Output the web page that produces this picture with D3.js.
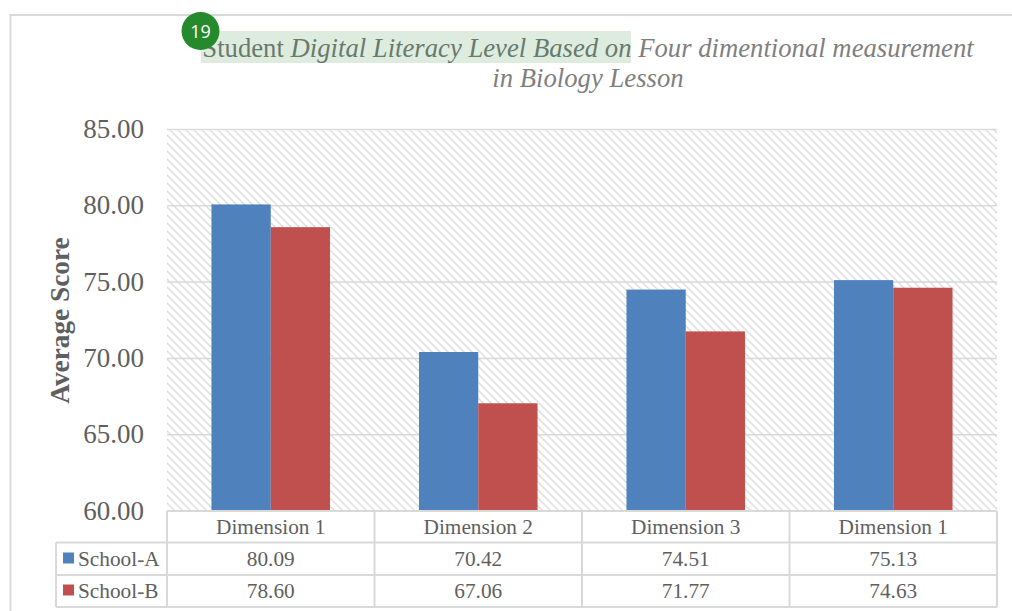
<!DOCTYPE html>
<html>
<head>
<meta charset="utf-8">
<script src="https://cdn.jsdelivr.net/npm/d3@7"></script>
<style>
  html, body { margin: 0; padding: 0; background: #fff; }
  svg { display: block; }
  text { font-family: "Liberation Serif", serif; }
</style>
</head>
<body>
<svg id="chart" width="1012" height="611"></svg>
<script>
const categories = ['Dimension 1', 'Dimension 2', 'Dimension 3', 'Dimension 1'];
const seriesNames = ['School-A', 'School-B'];
const schoolA = [80.09, 70.42, 74.51, 75.13];
const schoolB = [78.60, 67.06, 71.77, 74.63];
const seriesValues = [schoolA, schoolB];
const seriesColors = ['#4f81bd', '#c0504d'];
const yTicks = [60, 65, 70, 75, 80, 85];

const svg = d3.select('#chart');
const gridColor = '#d9d9d9';
const textColor = '#5f5f5f';

const plotLeft = 167, plotRight = 997, plotTop = 129.5, plotBottom = 511;
const rowLines = [511, 542.5, 575, 607];
const legendLeft = 56;
const tableFont = 21.3;

const defs = svg.append('defs');
const hatch = defs.append('pattern')
  .attr('id', 'hatch')
  .attr('width', 8)
  .attr('height', 8)
  .attr('patternUnits', 'userSpaceOnUse');
hatch.append('rect').attr('width', 8).attr('height', 8).attr('fill', '#fff');
hatch.append('path')
  .attr('d', 'M-1,-1L9,9M-1,7L1,9M7,-1L9,1')
  .attr('stroke', gridColor)
  .attr('stroke-width', 1.5)
  .attr('stroke-dasharray', '2.4 0.43');

// outer frame, runs off the right and bottom of the picture
svg.append('path')
  .attr('d', 'M1012,15H10.5V611')
  .attr('fill', 'none')
  .attr('stroke', gridColor)
  .attr('stroke-width', 2);

const x0 = d3.scaleBand().domain(d3.range(categories.length)).range([plotLeft, plotRight]);
const x1 = d3.scaleBand()
  .domain(seriesNames)
  .range([0, x0.bandwidth()])
  .paddingInner(0)
  .paddingOuter(0.75);
const y = d3.scaleLinear().domain([60, 85]).range([plotBottom, plotTop]);

svg.append('rect')
  .attr('x', plotLeft)
  .attr('y', plotTop)
  .attr('width', plotRight - plotLeft)
  .attr('height', plotBottom - plotTop)
  .attr('fill', 'url(#hatch)');

// gridlines
svg.append('g')
  .selectAll('line')
  .data(yTicks)
  .enter()
  .append('line')
  .attr('x1', plotLeft)
  .attr('x2', plotRight)
  .attr('y1', d => y(d))
  .attr('y2', d => y(d))
  .attr('stroke', gridColor)
  .attr('stroke-width', 1.5);

// y axis labels
const yAxis = svg.append('g')
  .attr('transform', 'translate(144,-0.5)')
  .call(d3.axisLeft(y).tickValues(yTicks).tickFormat(d3.format('.2f')).tickSize(0).tickPadding(0));
yAxis.select('.domain').remove();
yAxis.selectAll('text')
  .attr('font-size', 27)
  .attr('fill', textColor)
  .style('font-family', '"Liberation Serif", serif');

// bars
seriesNames.forEach((name, s) => {
  svg.append('g')
    .selectAll('rect')
    .data(seriesValues[s])
    .enter()
    .append('rect')
    .attr('x', (d, i) => x0(i) + x1(name))
    .attr('y', d => y(d))
    .attr('width', x1.bandwidth())
    .attr('height', d => y(60) - y(d))
    .attr('fill', seriesColors[s]);
});

// data table
const table = svg.append('g').attr('stroke', gridColor).attr('stroke-width', 2).attr('fill', 'none');
const colEdges = d3.range(categories.length + 1).map(i => plotLeft + i * x0.step());
table.selectAll('.col')
  .data(colEdges)
  .enter()
  .append('line')
  .attr('class', 'col')
  .attr('x1', d => d)
  .attr('x2', d => d)
  .attr('y1', plotBottom)
  .attr('y2', rowLines[3]);
table.selectAll('.row')
  .data(rowLines)
  .enter()
  .append('line')
  .attr('class', 'row')
  .attr('x1', (d, i) => (i === 0 ? plotLeft : legendLeft))
  .attr('x2', plotRight)
  .attr('y1', d => d)
  .attr('y2', d => d);
table.append('line')
  .attr('x1', legendLeft)
  .attr('x2', legendLeft)
  .attr('y1', rowLines[1])
  .attr('y2', rowLines[3]);

svg.append('g')
  .selectAll('text')
  .data(categories)
  .enter()
  .append('text')
  .attr('x', (d, i) => x0(i) + x0.bandwidth() / 2)
  .attr('y', 534)
  .attr('text-anchor', 'middle')
  .attr('font-size', tableFont)
  .attr('fill', textColor)
  .text(d => d);

seriesNames.forEach((name, s) => {
  const rowY = s === 0 ? 566 : 598;
  svg.append('g')
    .selectAll('text')
    .data(seriesValues[s])
    .enter()
    .append('text')
    .attr('x', (d, i) => x0(i) + x0.bandwidth() / 2)
    .attr('y', rowY)
    .attr('text-anchor', 'middle')
    .attr('font-size', tableFont)
    .attr('fill', textColor)
    .text(d => d.toFixed(2));

  svg.append('rect')
    .attr('x', 63)
    .attr('y', rowY - 13.5)
    .attr('width', 11)
    .attr('height', 11)
    .attr('fill', seriesColors[s]);
  svg.append('text')
    .attr('x', 78)
    .attr('y', rowY)
    .attr('font-size', tableFont)
    .attr('fill', textColor)
    .text(name);
});

// y axis title
svg.append('text')
  .attr('transform', 'translate(69,320.5) rotate(-90)')
  .attr('text-anchor', 'middle')
  .attr('font-size', 27.3)
  .attr('font-weight', 'bold')
  .attr('fill', textColor)
  .text('Average Score');

// title highlight and title
svg.append('rect')
  .attr('x', 201)
  .attr('y', 31)
  .attr('width', 430)
  .attr('height', 32)
  .attr('fill', '#deecdf');

const title1 = svg.append('text')
  .attr('x', 588)
  .attr('y', 56.5)
  .attr('text-anchor', 'middle')
  .attr('font-size', 26.7)
  .attr('fill', '#7f7f7f');
title1.append('tspan').attr('fill', '#687a6c').text('Student ');
title1.append('tspan').attr('fill', '#687a6c').attr('font-style', 'italic').text('Digital Literacy Level Based on ');
title1.append('tspan').attr('font-style', 'italic').text('Four dimentional measurement');

svg.append('text')
  .attr('x', 588)
  .attr('y', 86.5)
  .attr('text-anchor', 'middle')
  .attr('font-size', 26.7)
  .attr('font-style', 'italic')
  .attr('fill', '#7f7f7f')
  .text('in Biology Lesson');

// numbered marker
svg.append('circle')
  .attr('cx', 200.5)
  .attr('cy', 31)
  .attr('r', 19)
  .attr('fill', '#258a2c');
svg.append('text')
  .attr('x', 200.5)
  .attr('y', 37.5)
  .attr('text-anchor', 'middle')
  .attr('font-size', 18)
  .attr('fill', '#fff')
  .style('font-family', '"Open Sans", sans-serif')
  .text('19');
</script>
</body>
</html>
